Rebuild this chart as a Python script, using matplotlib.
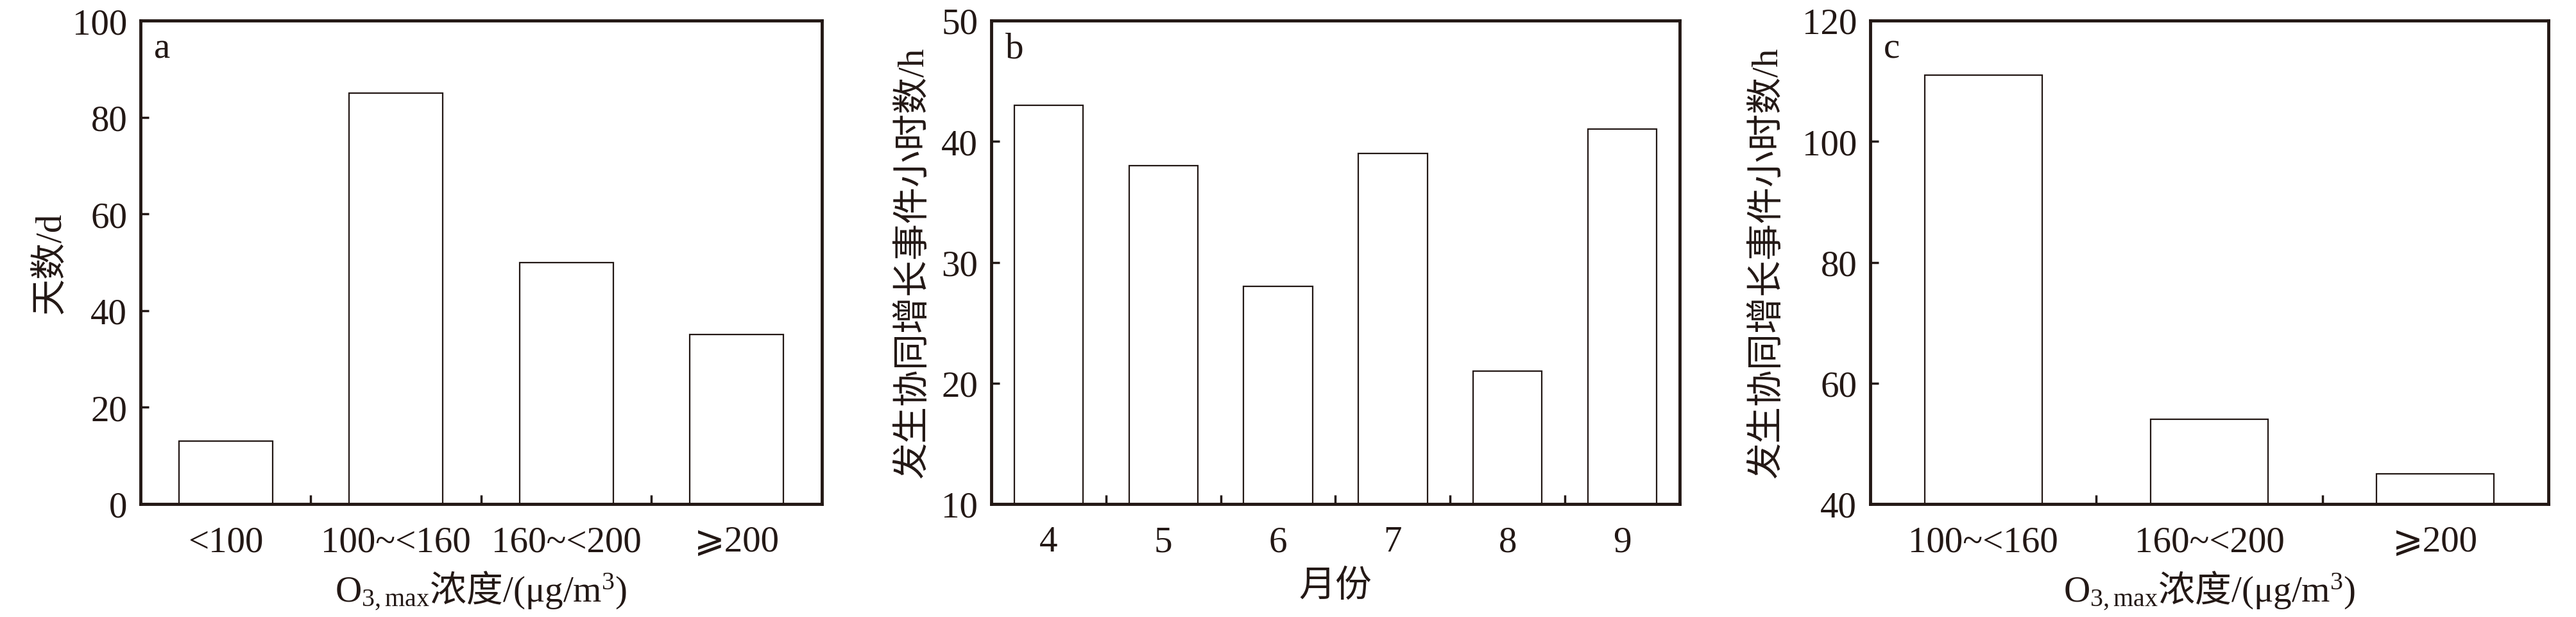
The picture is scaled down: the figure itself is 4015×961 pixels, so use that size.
import numpy as np
import matplotlib
matplotlib.use("Agg")
from matplotlib import pyplot as plt
from matplotlib.ticker import FixedLocator

# data
conc_labels_a = ["<100", "100~<160", "160~<200", "⩾200"]
days_a = [13, 85, 50, 35]

months_b = ["4", "5", "6", "7", "8", "9"]
hours_b = [43, 38, 28, 39, 21, 41]

conc_labels_c = ["100~<160", "160~<200", "⩾200"]
hours_c = [111, 54, 45]

plt.rcParams['font.family'] = ['Liberation Serif', 'Noto Sans CJK SC', 'DejaVu Sans']
plt.rcParams['mathtext.fontset'] = 'custom'
plt.rcParams['mathtext.rm'] = 'Liberation Serif'
plt.rcParams['mathtext.it'] = 'Liberation Serif:italic'
plt.rcParams['mathtext.bf'] = 'Liberation Serif:bold'
plt.rcParams['mathtext.sf'] = 'Noto Sans CJK SC'  # used for the chinese bit inside mathtext

INK = '#231815'
FS = 41

fig = plt.figure(figsize=(40.16, 9.62), dpi=100)
W, H = 4016.0, 962.0
boxes = [(219, 1281), (1545, 2618), (2915, 3972)]
top, bottom = 33, 786


def make_ax(x0, x1):
    return fig.add_axes([x0 / W, 1 - bottom / H, (x1 - x0) / W, (bottom - top) / H])


def style(ax, labels, values, width, ylim, yticks, ylabel, xlabel, letter, ylabelpad):
    n = len(labels)
    x = np.arange(n)
    # bars stand on the lower y limit
    ax.bar(x, np.array(values) - ylim[0], bottom=ylim[0], width=width, color='white',
           edgecolor=INK, linewidth=1.6)
    ax.set_xlim(-0.5, n - 0.5)
    ax.set_ylim(*ylim)
    ax.set_yticks(yticks)
    ax.set_xticks(x)
    ax.set_xticklabels(labels)
    ax.xaxis.set_minor_locator(FixedLocator(np.arange(n - 1) + 0.5))
    for s in ax.spines.values():
        s.set_linewidth(3.5)
        s.set_color(INK)
    ax.tick_params(axis='x', which='major', length=0, pad=24, labelsize=FS, colors=INK)
    ax.tick_params(axis='x', which='minor', direction='in', length=10, width=2.5, color=INK)
    ax.tick_params(axis='y', which='major', direction='in', length=9.5, width=2.5,
                   pad=15, labelsize=FS, colors=INK)
    ax.set_ylabel(ylabel, fontsize=FS, color=INK, labelpad=ylabelpad)
    ax.set_xlabel(xlabel, fontsize=FS, color=INK, labelpad=12)
    ax.text(0.02, 0.924, letter, transform=ax.transAxes, fontsize=FS, color=INK,
            va='baseline', ha='left')


xlab_conc = "O$_{3,\\mathrm{max}}\\mathsf{浓度}$/(μg/m$^3$)"
ylab_hours = "发生协同增长事件小时数/h"

ax_a = make_ax(*boxes[0])
style(ax_a, conc_labels_a, days_a, 0.55, (0, 100), [0, 20, 40, 60, 80, 100],
      "天数/d", xlab_conc, "a", 5)

ax_b = make_ax(*boxes[1])
style(ax_b, months_b, hours_b, 0.6, (10, 50), [10, 20, 30, 40, 50],
      ylab_hours, "月份", "b", 12)

ax_c = make_ax(*boxes[2])
style(ax_c, conc_labels_c, hours_c, 0.52, (40, 120), [40, 60, 80, 100, 120],
      ylab_hours, xlab_conc, "c", 20)

fig.savefig("out.png", dpi=100)
